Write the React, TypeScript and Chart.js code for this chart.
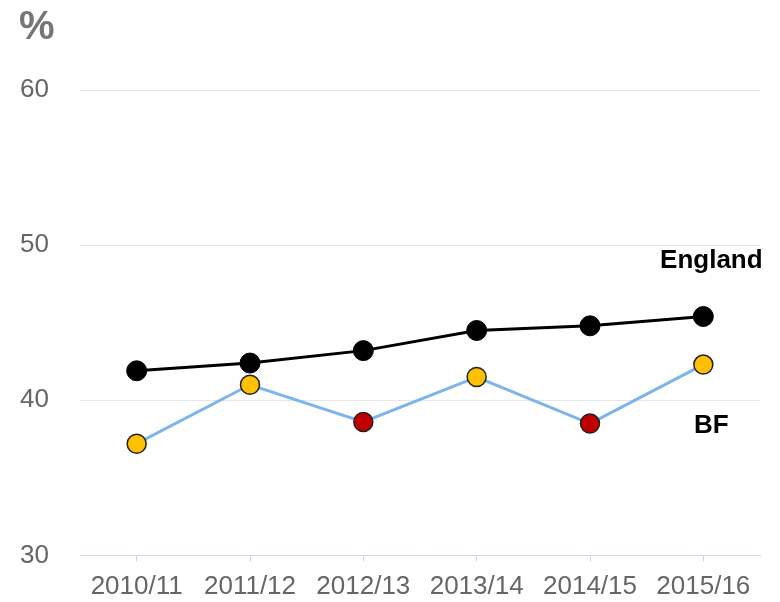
import React, { useEffect, useRef } from "react";
import { Chart, registerables } from "chart.js";

Chart.register(...registerables);

const categories = ["2010/11", "2011/12", "2012/13", "2013/14", "2014/15", "2015/16"];
const englandValues = [41.9, 42.4, 43.2, 44.5, 44.8, 45.4];
const bfValues = [37.2, 41.0, 38.6, 41.5, 38.5, 42.3];
const bfPointColors = ["#FFC000", "#FFC000", "#C00000", "#FFC000", "#C00000", "#FFC000"];
const yTicks = [30, 40, 50, 60];
const englandLabelValue = 48.5;
const bfLabelValue = 37.9;

const labelsPlugin = {
  id: "seriesLabels",
  afterDatasetsDraw(chart: any) {
    const { ctx, scales } = chart;
    const x = scales.x.getPixelForValue(categories.length - 1) + 8;
    ctx.save();
    ctx.fillStyle = "#000000";
    ctx.font = "bold 26px 'Liberation Sans', Arial, sans-serif";
    ctx.textAlign = "center";
    ctx.textBaseline = "alphabetic";
    ctx.fillText("England", x, scales.y.getPixelForValue(englandLabelValue));
    ctx.fillText("BF", x, scales.y.getPixelForValue(bfLabelValue));
    ctx.fillStyle = "#767676";
    ctx.font = "bold 40px 'Liberation Sans', Arial, sans-serif";
    ctx.textAlign = "left";
    ctx.fillText("%", 19, 39);
    ctx.restore();
  },
};

export default function App() {
  const ref = useRef<HTMLCanvasElement | null>(null);
  useEffect(() => {
    if (!ref.current) return;
    const chart = new Chart(ref.current, {
      type: "line",
      data: {
        labels: categories,
        datasets: [
          {
            label: "England",
            data: englandValues,
            borderColor: "#000000",
            borderWidth: 3,
            pointBackgroundColor: "#000000",
            pointBorderColor: "#000000",
            pointBorderWidth: 1,
            pointRadius: 10,
            tension: 0,
          },
          {
            label: "BF",
            data: bfValues,
            borderColor: "#7cb5ec",
            borderWidth: 3,
            pointBackgroundColor: bfPointColors,
            pointBorderColor: "#222222",
            pointBorderWidth: 1.5,
            pointRadius: 9.5,
            tension: 0,
          },
        ],
      },
      options: {
        animation: false,
        responsive: false,
        maintainAspectRatio: false,
        layout: { padding: { top: 90, right: 20, left: 0, bottom: 0 } },
        plugins: {
          legend: { display: false },
          tooltip: { enabled: false },
        },
        scales: {
          x: {
            type: "category",
            offset: true,
            grid: {
              display: true,
              drawOnChartArea: false,
              drawTicks: true,
              tickLength: 6,
              color: "#ccd6eb",
              offset: false,
            },
            border: { display: true, color: "#ccd6eb", width: 1 },
            ticks: {
              color: "#666666",
              font: { family: "'Liberation Sans', Arial, sans-serif", size: 26 },
              padding: 10,
              maxRotation: 0,
              autoSkip: false,
            },
            afterFit(scale: any) {
              scale.height = 46;
            },
          },
          y: {
            min: 30,
            max: 60,
            afterBuildTicks(scale: any) {
              scale.ticks = yTicks.map((v) => ({ value: v }));
            },
            grid: {
              color: "#e6e6e6",
              lineWidth: 1,
              drawTicks: false,
            },
            border: { display: false },
            ticks: {
              color: "#666666",
              font: { family: "'Liberation Sans', Arial, sans-serif", size: 26 },
              padding: 31,
            },
            afterFit(scale: any) {
              scale.width = 80;
            },
          },
        },
      },
      plugins: [labelsPlugin],
    });
    return () => chart.destroy();
  }, []);
  return (
    <div style={{ position: "fixed", left: 0, top: 0, width: 780, height: 602, background: "#ffffff" }}>
      <canvas ref={ref} width={780} height={602} style={{ width: 780, height: 602, display: "block" }} />
    </div>
  );
}
